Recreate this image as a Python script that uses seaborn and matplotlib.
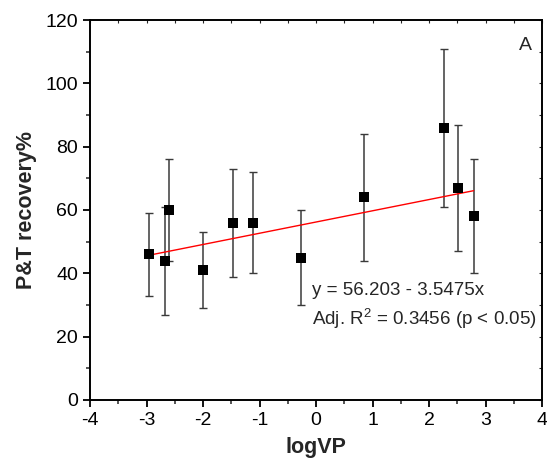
import matplotlib
matplotlib.use("Agg")
import matplotlib.pyplot as plt
import seaborn as sns
import numpy as np
import pandas as pd
from matplotlib.ticker import MultipleLocator

# Data
log_vp = [-2.95, -2.68, -2.61, -2.0, -1.47, -1.11, -0.27, 0.85, 2.27, 2.52, 2.79]
recovery = [46, 44, 60, 41, 56, 56, 45, 64, 86, 67, 58]
err_upper = [59, 61, 76, 53, 73, 72, 60, 84, 111, 87, 76]
err_lower = [33, 27, 44, 29, 39, 40, 30, 44, 61, 47, 40]
fit_intercept = 56.203
fit_slope = 3.5475
eq_text = "y = 56.203 - 3.5475x"
r2_text = "Adj. R$^2$ = 0.3456 (p < 0.05)"
panel_label = "A"

sns.set_style("ticks")
plt.rcParams['font.family'] = ['Liberation Sans', 'DejaVu Sans']
plt.rcParams['axes.unicode_minus'] = False
plt.rcParams['mathtext.fontset'] = 'custom'
plt.rcParams['mathtext.rm'] = 'Liberation Sans'

df = pd.DataFrame({"logVP": log_vp, "rec": recovery,
                   "up": err_upper, "lo": err_lower})

fig = plt.figure(figsize=(5.47, 4.70), dpi=100)
ax = fig.add_axes([90/547, 70/470, 452/547, 380/470])

yerr = np.vstack([df["rec"] - df["lo"], df["up"] - df["rec"]])
ax.errorbar(df["logVP"], df["rec"], yerr=yerr, fmt='none',
            ecolor='#3a3a3a', elinewidth=1.1, capsize=3, capthick=1.0, zorder=2)

xfit = np.array([min(log_vp), max(log_vp)])
fit_df = pd.DataFrame({"x": xfit, "y": fit_intercept + fit_slope * xfit})
sns.lineplot(data=fit_df, x="x", y="y", color='red', linewidth=1.0, ax=ax, zorder=3)

sns.scatterplot(data=df, x="logVP", y="rec", marker='s', s=45, color='black',
                edgecolor='black', linewidth=0, ax=ax, zorder=4)

ax.set_xlim(-4, 4)
ax.set_ylim(0, 120)
ax.xaxis.set_major_locator(MultipleLocator(1))
ax.xaxis.set_minor_locator(MultipleLocator(0.5))
ax.yaxis.set_major_locator(MultipleLocator(20))
ax.yaxis.set_minor_locator(MultipleLocator(10))
ax.tick_params(which='major', direction='out', length=5, width=1.3, labelsize=14, colors='black')
ax.tick_params(which='minor', direction='out', length=3, width=1.1)

for s in ax.spines.values():
    s.set_linewidth(1.4)
    s.set_color('black')
    s.set_visible(True)

secx = ax.secondary_xaxis('top')
secx.xaxis.set_major_locator(MultipleLocator(0.5))
secx.tick_params(direction='in', length=2.5, width=0.8, labeltop=False)
secx.spines['top'].set_visible(False)
secy = ax.secondary_yaxis('right')
secy.yaxis.set_major_locator(MultipleLocator(10))
secy.tick_params(direction='in', length=2.5, width=0.8, labelright=False)
secy.spines['right'].set_visible(False)

ax.set_xlabel("logVP", fontsize=15.5, fontweight='bold', labelpad=6)
ax.set_ylabel("P&T recovery%", fontsize=15.5, fontweight='bold', labelpad=6)

ax.text(-0.07, 34.5, eq_text, fontsize=13.5, va='center', ha='left')
ax.text(-0.07, 25.8, r2_text, fontsize=13.5, va='center', ha='left')
ax.text(3.7, 112, panel_label, fontsize=14, va='center', ha='center')

fig.savefig("out.png", dpi=100)
